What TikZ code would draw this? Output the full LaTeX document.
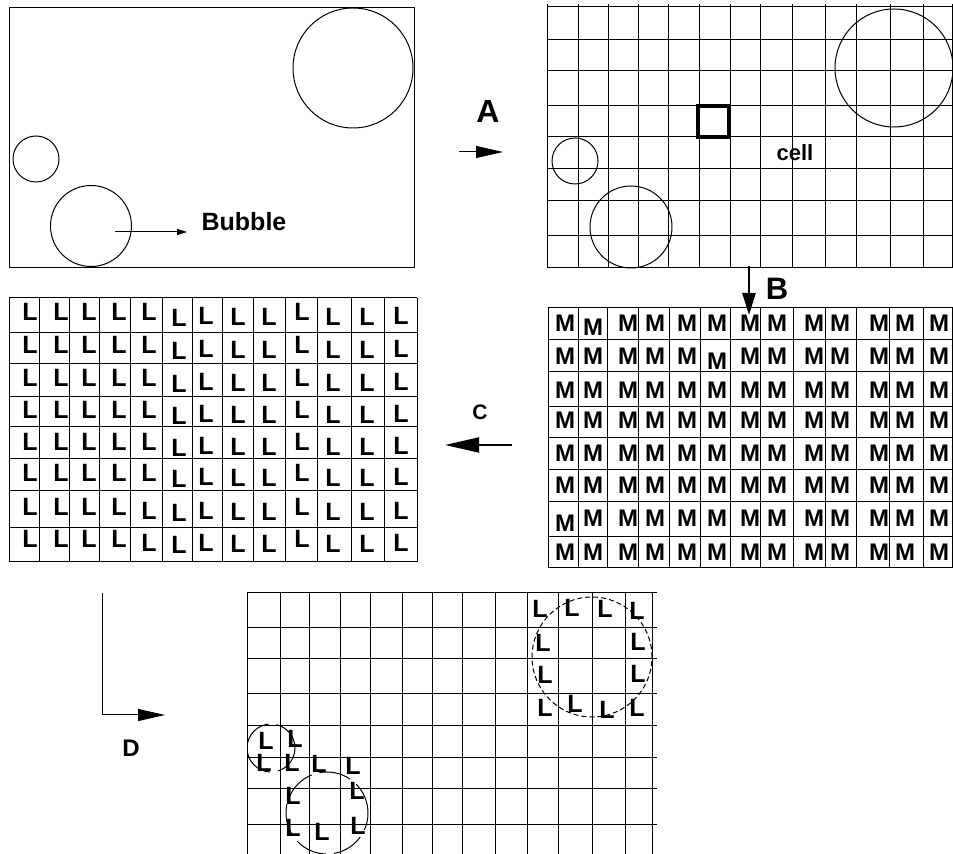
\documentclass[tikz,border=0pt]{standalone}
\usepackage{fontspec}
\setmainfont{Liberation Sans}
\usetikzlibrary{arrows.meta}
\tikzset{
  gridln/.style={line width=0.5pt},
  mlet/.style={inner sep=0pt,font=\bfseries\fontsize{12}{12}\selectfont},
  llet/.style={inner sep=0pt,font=\bfseries\fontsize{12.5}{12.5}\selectfont},
  bigtip/.style={-{Triangle[length=13.5pt,width=6pt]}},
}
\begin{document}
\begin{tikzpicture}[x=0.5pt,y=-0.5pt]
\useasboundingbox (0,0) rectangle (953,854);

% bubbles in the domain
\draw[gridln] (9,8) rectangle (414,268);
\draw[gridln] (353,68) circle[radius=30pt];
\draw[gridln] (36,159) circle[radius=11.5pt];
\draw[gridln] (91,226) circle[radius=20.25pt];
\node[llet] (bubble) at (244,222) {Bubble};
\coordinate (bub) at (115,232);
\coordinate (bubtip) at (187,232);
\draw[gridln,-{Triangle[length=5pt,width=3pt]}] (bub) -- (bubtip);

% step A
\node[inner sep=0pt,font=\bfseries\fontsize{16}{16}\selectfont] (lA) at (488,112) {A};
\coordinate (a-s) at (459,152);
\coordinate (a-e) at (503,152);
\draw[gridln,bigtip] (a-s) -- (a-e);

% grid with cells
\foreach \x in {547,578,608,638,668,699,730,760,792,825,856,890,923,952.5}
  \draw[gridln] (\x,4) -- (\x,268);
\foreach \y in {7,40,71,106,137,169,201,236,268}
  \draw[gridln] (547,\y) -- (952.5,\y);
\draw[gridln] (894,68) circle[radius=29.5pt];
\draw[gridln] (575,161) circle[radius=11.5pt];
\draw[gridln] (631,227) circle[radius=20.5pt];
\draw[line width=1.75pt] (698,106) rectangle (729,137);
\node[inner sep=0pt,font=\bfseries\fontsize{11}{11}\selectfont] (cell) at (795,153) {cell};

% step B
\node[inner sep=0pt,font=\bfseries\fontsize{15.5}{15.5}\selectfont] (lB) at (777,289) {B};
\coordinate (b-s) at (749,266);
\coordinate (b-e) at (749,315);
\draw[line width=1.2pt,-{Triangle[length=11pt,width=6.5pt]}] (b-s) -- (b-e);

% M grid
\foreach \x in {548,578,607,638,669,700,730,760,793,825,856,889,923,952.5}
  \draw[gridln] (\x,308) -- (\x,568);
\foreach \y in {308,340,372,407,438,470,502,537,568}
  \draw[gridln] (548,\y) -- (952.5,\y);
\foreach \c/\x in {1/565,2/593,3/628,4/655,5/687,6/717,7/750,8/777,9/814,10/840,11/879,12/905,13/939}
  \foreach \r/\y in {1/323,2/356,3/390,4/420,5/453,6/485,7/518,8/552}{
    \def\dy{0}
    \ifnum\r\c=12 \def\dy{4}\fi
    \ifnum\r\c=26 \def\dy{5}\fi
    \ifnum\r\c=71 \def\dy{5}\fi
    \node[mlet] (m-\r-\c) at (\x,\y+\dy) {M};
  }

% step C
\node[inner sep=0pt,font=\bfseries\fontsize{10.5}{10.5}\selectfont] (lC) at (480,412) {C};
\coordinate (c-s) at (512,445);
\coordinate (c-e) at (445,445);
\draw[line width=1pt,-{Triangle[length=17pt,width=7.5pt]}] (c-s) -- (c-e);

% L grid
\foreach \x in {9,39,69,99,130,162,192,222,253,285,317,351,384,417}
  \draw[gridln] (\x,298) -- (\x,562);
\foreach \y in {298,333,364,397,427,459,491,528,562}
  \draw[gridln] (9,\y) -- (417,\y);
\foreach \c/\x/\dc in {1/30/0,2/61/0,3/89/0,4/119/0,5/149/0,6/179/6,7/206/4,8/238/5,9/269/5,10/302/0,11/333/5,12/367/5,13/401/4}
  \foreach \r/\y in {1/312,2/345,3/378,4/410,5/442,6/473,7/507,8/539}{
    \def\dy{0}
    \ifnum\r\c=75 \def\dy{4}\fi
    \ifnum\r\c=85 \def\dy{4}\fi
    \node[llet] (l-\r-\c) at (\x,\y+\dc+\dy) {L};
  }

% step D
\node[inner sep=0pt,font=\bfseries\fontsize{12}{12}\selectfont] (lD) at (131,748) {D};
\coordinate (d-s) at (102,593);
\coordinate (d-c) at (102,715);
\coordinate (d-e) at (165,715);
\draw[gridln,bigtip] (d-s) -- (d-c) -- (d-e);

% new bubbles
\foreach \x in {247,280,309,340,370,402,432,462,495,527,558,592,625,652}
  \draw[gridln] (\x,593) -- (\x,854);
\foreach \y in {593,628,659,694,726,758,789,824}
  \draw[gridln] (247,\y) -- (657,\y);
\draw[gridln,dash pattern=on 2.5pt off 1.5pt] (592,657) circle[radius=30pt];
\draw[gridln,dash pattern=on 16pt off 4pt] (271,748) circle[radius=12pt];
\draw[gridln,dash pattern=on 16pt off 4pt] (327,813) circle[radius=20.5pt];
\foreach \x/\y [count=\i] in {540/609,572/608,605/609,637/611,543/643,638/642,545/675,638/674,545/708,575/704,607/710,637/708,266/741,295/739,264/763,292/763,319/764,353/766,293/796,357/791,293/828,322/832,358/826}
  \node[llet] (n-\i) at (\x,\y) {L};
\end{tikzpicture}
\end{document}
